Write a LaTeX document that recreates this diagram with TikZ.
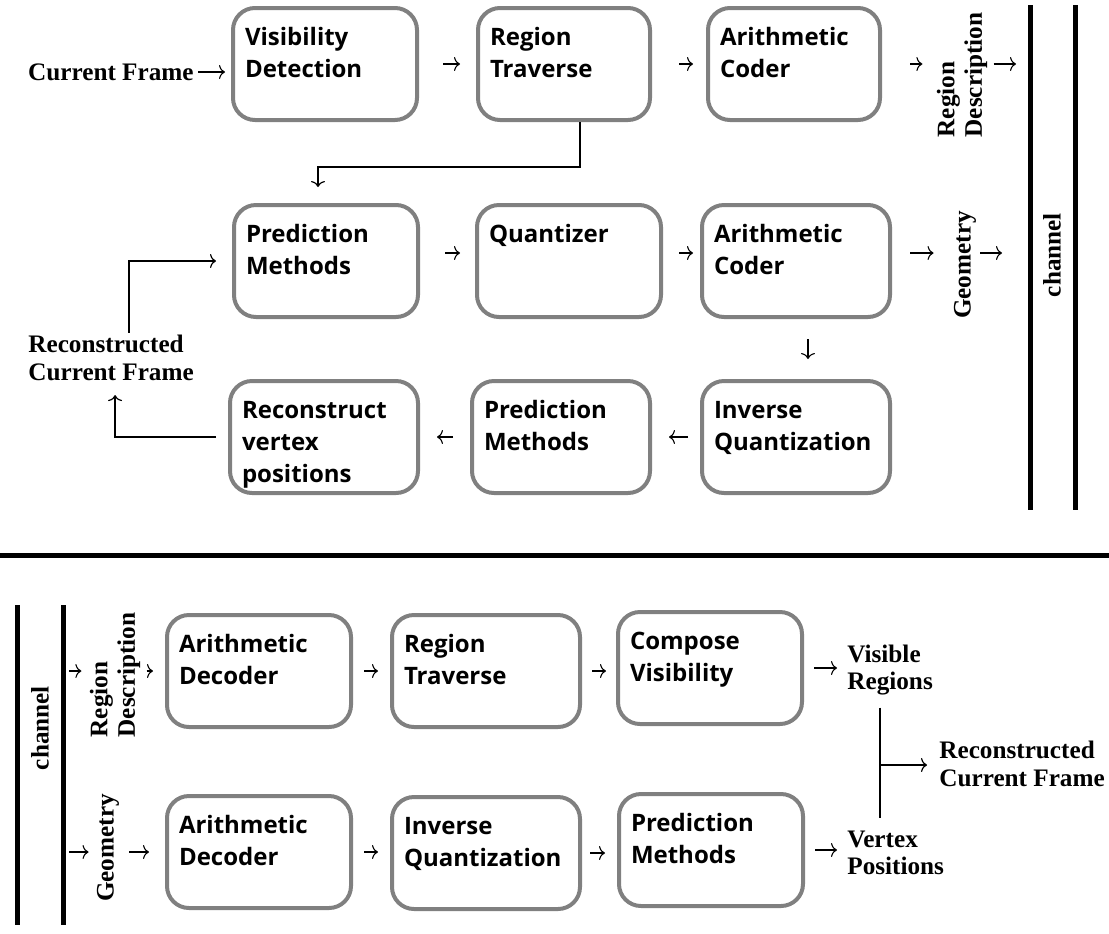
\documentclass[tikz,border=0pt]{standalone}
\usepackage{fontspec}
\setmainfont{Liberation Serif}
\newfontfamily\boxfont{Open Sans}
\usetikzlibrary{arrows.meta}
\definecolor{boxgray}{RGB}{128,128,128}
\tikzset{
  block/.style={draw=boxgray, line width=2pt, rounded corners=11pt, inner xsep=6pt, inner ysep=6pt,
    font=\boxfont\bfseries\fontsize{12}{16}\selectfont},
  outlabel/.style={font=\bfseries\fontsize{12.6}{13.8}\selectfont, align=left, inner sep=1pt},
  arr/.style={-{To[length=3pt,width=7pt]}, line width=0.55pt, shorten <=6pt, shorten >=6pt},
  wire/.style={line width=0.6pt},
  bar/.style={line width=2.5pt}
}
\newcommand{\blk}[2][80pt]{\parbox[c][44pt][t]{#1}{\raggedright\rule{0pt}{12.5pt}#2}}
\begin{document}
\begin{tikzpicture}[x=0.5pt,y=-0.5pt]
\useasboundingbox (0,0) rectangle (1109,933);
\node[block] (vis) at (325,64) {\blk{Visibility\\Detection}};
\node[block] (trav) at (564,64) {\blk[74pt]{Region\\Traverse}};
\node[block] (enc) at (794,64) {\blk[74pt]{Arithmetic\\Coder}};
\node[block] (pred) at (326,261) {\blk{Prediction\\Methods}};
\node[block] (quant) at (569,261) {\blk{Quantizer}};
\node[block] (enc2) at (796,261) {\blk[82pt]{Arithmetic\\Coder}};
\node[block] (recon) at (324,437) {\blk[82pt]{Reconstruct\\vertex\\positions}};
\node[block] (pred2) at (561,437) {\blk[77pt]{Prediction\\Methods}};
\node[block] (iquant) at (796,437) {\blk[82pt]{Inverse\\Quantization}};
\node[outlabel, anchor=east] (cur) at (196,72) {Current Frame};
\node[outlabel, rotate=90] (rdesc) at (962,75) {Region\\Description};
\node[outlabel, rotate=90] (geom) at (965,265) {Geometry};
\node[outlabel, rotate=90] (chan) at (1052,255) {channel};
\node[outlabel, anchor=west] (rcf) at (26,358) {Reconstructed\\Current Frame};
\coordinate (bartop) at (1030,5);
\draw[bar] (bartop) -- (1030,510);
\draw[bar] (1075,5) -- (1075,510);
\draw[bar] (0,555) -- (1109,555);
\draw[arr, shorten <=1pt, shorten >=3pt] (cur.east) -- (cur.east -| vis.west);
\draw[arr, shorten <=12pt, shorten >=8pt] (vis.east) -- (vis.east -| trav.west);
\draw[arr, shorten <=13.5pt, shorten >=6.5pt] (trav.east) -- (trav.east -| enc.west);
\draw[arr, shorten <=12.5pt, shorten >=7.5pt] ([yshift=4pt]pred.east) -- ([yshift=4pt]pred.east -| quant.west);
\draw[arr, shorten <=8pt, shorten >=3.5pt] ([yshift=4pt]quant.east) -- ([yshift=4pt]quant.east -| enc2.west);
\draw[arr, shorten <=6pt, shorten >=8.5pt] (iquant.west) -- (iquant.west -| pred2.east);
\draw[arr, shorten <=8.5pt, shorten >=8.5pt] (pred2.west) -- (pred2.west -| recon.east);
\draw[arr, shorten <=14pt, shorten >=6pt] (enc.east) -- (enc.east -| rdesc.north);
\draw[arr, shorten <=2pt, shorten >=7pt] (rdesc.south |- enc.east) -- (bartop |- enc.east);
\draw[arr, shorten <=9pt, shorten >=9pt] ([yshift=4pt]enc2.east) -- ([yshift=4pt]enc2.east -| geom.north);
\draw[arr, shorten <=1pt, shorten >=14pt] ([yshift=4pt]geom.south |- enc2.east) -- ([yshift=4pt]bartop |- enc2.east);
\draw[arr, shorten <=10pt, shorten >=10pt] ([xshift=6pt]enc2.south) -- ([xshift=6pt]enc2.south |- iquant.north);
\draw[wire, -{To[length=3pt,width=7pt]}, shorten >=8pt] ([xshift=8pt]trav.south) -- ++(0,45) -| ([xshift=-4pt]pred.north);
\draw[wire, -{To[length=3pt,width=7pt]}, shorten >=8pt] ([xshift=9pt]rcf.north) |- (pred.west);
\draw[wire, -{To[length=3pt,width=7pt]}, shorten <=6pt, shorten >=6pt] (recon.west) -| ([xshift=2pt]rcf.south);
\node[block] (dec) at (259,671) {\blk{Arithmetic\\Decoder}};
\node[block] (trav2) at (486,671) {\blk[82pt]{Region\\Traverse}};
\node[block] (comp) at (710,668) {\blk{Compose\\Visibility}};
\node[block] (dec2) at (259,852) {\blk{Arithmetic\\Decoder}};
\node[block] (iquant2) at (486,853) {\blk[82pt]{Inverse\\Quantization}};
\node[block] (pred3) at (711,850) {\blk{Prediction\\Methods}};
\coordinate (bartop2) at (63,605);
\draw[bar] (17,605) -- (17,925);
\draw[bar] (bartop2) -- (63,925);
\node[outlabel, rotate=90] (chan2) at (40,728) {channel};
\node[outlabel, rotate=90] (rdesc2) at (115,675) {Region\\Description};
\node[outlabel, rotate=90] (geom2) at (108,848) {Geometry};
\node[outlabel, anchor=west] (visreg) at (845,670) {Visible\\Regions};
\node[outlabel, anchor=west] (vpos) at (845,853) {Vertex\\Positions};
\node[outlabel, anchor=west] (rcf2) at (937,764) {Reconstructed\\Current Frame};
\coordinate (merge) at (880,765);
\draw[arr, shorten <=3pt, shorten >=3pt] (bartop2 |- dec.west) -- (rdesc2.north |- dec.west);
\draw[arr, shorten <=2pt, shorten >=6pt] (rdesc2.south |- dec.west) -- (dec.west);
\draw[arr, shorten <=3pt, shorten >=3pt] (bartop2 |- dec2.west) -- (geom2.north |- dec2.west);
\draw[arr, shorten <=4pt, shorten >=8pt] (geom2.south |- dec2.west) -- (dec2.west);
\draw[arr, shorten <=5.5pt, shorten >=6pt] (dec.east) -- (dec.east -| trav2.west);
\draw[arr, shorten <=5pt, shorten >=5pt] (trav2.east) -- (trav2.east -| comp.west);
\draw[arr, shorten <=5.5pt, shorten >=6pt] (dec2.east) -- (dec2.east -| iquant2.west);
\draw[arr, shorten <=4pt, shorten >=6pt] (iquant2.east) -- (iquant2.east -| pred3.west);
\draw[arr, shorten <=5pt, shorten >=4pt] (comp.east) -- (comp.east -| visreg.west);
\draw[arr, shorten <=5pt, shorten >=4pt] (pred3.east) -- (pred3.east -| vpos.west);
\draw[wire, shorten <=5pt, shorten >=5pt] (merge |- visreg.south) -- (merge |- vpos.north);
\draw[wire, -{To[length=3pt,width=7pt]}, shorten >=5pt] (merge) -- (merge -| rcf2.west);
\end{tikzpicture}
\end{document}
